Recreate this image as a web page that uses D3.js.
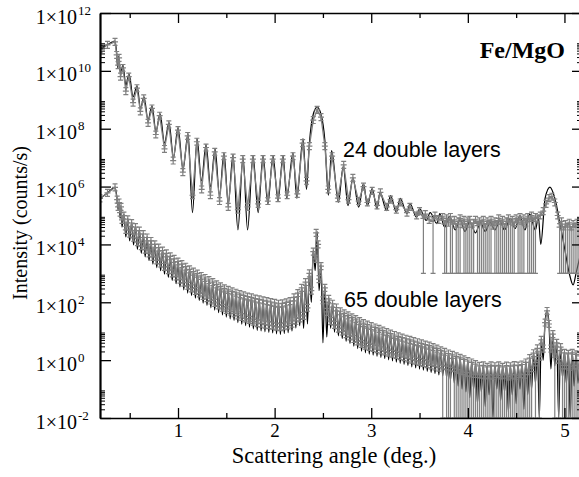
<!DOCTYPE html>
<html><head><meta charset="utf-8">
<script src="https://cdn.jsdelivr.net/npm/d3@7"></script>
<style>body{margin:0;background:#fff}svg{display:block}</style>
</head><body><svg id="c" width="579" height="477"></svg>
<script>
// ---- tick values ----
const xTicksMajor = [1, 2, 3, 4, 5];
const xTicksMinor = [0.5, 1.5, 2.5, 3.5, 4.5];
const yTickExps = [-2, 0, 2, 4, 6, 8, 10, 12];
const yMinorMantissas = [2, 3, 4, 5, 6, 7, 8, 9];
const yMinorExps = [-2, 0, 2, 4, 6, 8, 10];
const xTitle = "Scattering angle (deg.)";
const yTitle = "Intensity (counts/s)";
const sampleTitle = "Fe/MgO";
const seriesLabels = ["24 double layers", "65 double layers"];

// ---- data: [angle (deg), log10 intensity, optional log10 lower error bound] ----
const model24 = [[0.193,10.76],[0.27,10.90],[0.348,11.03],[0.365,10.6],[0.375,10.1],[0.385,10.5],[0.405,9.9],[0.43,10.2],[0.46,9.5],[0.493,9.90],[0.535,9.1],[0.576,9.48],[0.612,8.7],[0.648,9.10],[0.69,8.3],[0.731,8.79],[0.772,7.9],[0.814,8.52],[0.86,7.5],[0.907,8.21],[0.953,7.0],[1.0,8.04],[1.052,6.6],[1.104,7.83],[1.15,5.1],[1.197,7.66],[1.243,6.2],[1.29,7.45],[1.337,6.0],[1.383,7.31],[1.43,5.7],[1.476,7.17],[1.52,5.4],[1.569,7.10],[1.62,4.5],[1.673,7.04],[1.72,4.5],[1.776,7.07],[1.83,5.1],[1.88,7.07],[1.93,5.4],[1.983,7.07],[2.035,5.5],[2.087,7.07],[2.125,5.6],[2.19,7.17],[2.23,5.6],[2.294,7.66],[2.33,5.9],[2.36,7.5],[2.40,8.5],[2.44,8.75],[2.48,8.5],[2.52,7.6],[2.556,5.7],[2.59,7.24],[2.66,5.46],[2.71,6.69],[2.76,5.34],[2.81,6.31],[2.87,5.29],[2.92,6.10],[2.96,5.34],[3.01,5.93],[3.06,5.23],[3.09,5.79],[3.16,5.17],[3.20,5.69],[3.26,5.11],[3.30,5.59],[3.37,5.06],[3.40,5.41],[3.47,4.94],[3.50,5.24],[3.57,4.83],[3.61,5.10],[3.68,4.72],[3.71,5.07],[3.76,4.6],[3.81,4.97],[3.87,4.5],[3.92,4.86],[3.97,4.45],[4.02,4.79],[4.08,4.4],[4.13,4.76],[4.18,4.45],[4.23,4.76],[4.28,4.5],[4.33,4.83],[4.38,4.5],[4.44,4.90],[4.49,4.55],[4.54,5.0],[4.59,4.5],[4.64,5.05],[4.70,4.5],[4.73,4.95],[4.755,4.0],[4.80,5.6],[4.85,5.98],[4.90,5.6],[4.95,4.8],[5.0,3.9],[5.05,3.0],[5.09,2.6],[5.12,3.0],[5.161,3.6]];

const data24 = [[0.193,10.76],[0.27,10.9],[0.348,11.0],[0.365,10.55],[0.38,10.2],[0.39,10.45],[0.405,9.8],[0.43,10.1],[0.46,9.3],[0.49,9.8],[0.535,8.9],[0.575,9.4],[0.61,8.6],[0.645,9.05],[0.69,8.2],[0.73,8.7],[0.77,7.8],[0.81,8.45],[0.86,7.3],[0.905,8.15],[0.95,6.9],[1.0,7.95],[1.05,6.5],[1.10,7.75],[1.15,5.7],[1.195,7.55],[1.245,5.9],[1.29,7.35],[1.335,5.7],[1.38,7.2],[1.43,5.5],[1.475,7.05],[1.52,5.3],[1.57,7.0],[1.62,5.2],[1.67,6.95],[1.72,5.3],[1.775,6.95],[1.83,5.4],[1.88,6.95],[1.93,5.5],[1.98,6.95],[2.035,5.6],[2.085,6.95],[2.13,5.7],[2.19,7.05],[2.235,5.75],[2.29,7.5],[2.33,6.2],[2.36,7.4],[2.40,8.3],[2.44,8.65],[2.48,8.4],[2.52,7.4],[2.555,5.9],[2.595,7.05],[2.655,5.6],[2.715,6.75],[2.765,5.55],[2.81,6.3],[2.87,5.5],[2.92,6.0],[2.96,5.45],[3.01,5.85],[3.06,5.35],[3.095,5.8],[3.16,5.3],[3.20,5.55],[3.26,5.2],[3.30,5.45],[3.37,5.1],[3.40,5.3],[3.47,5.0],[3.50,5.15],
[3.54,4.9,3.0],[3.56,5.05],[3.60,4.85],[3.64,4.8,3.0],[3.66,5.0],[3.70,4.85],[3.74,4.95],[3.76,4.7,3.0],[3.78,4.9,3.0],[3.80,4.75],[3.82,4.95,3.0],[3.84,4.7,3.0],[3.86,4.85],[3.88,4.6,3.0],[3.90,4.8,3.0],[3.92,4.9,3.0],[3.94,4.7],[3.96,4.85,3.0],[3.98,4.6,3.0],[4.00,4.8,3.0],[4.02,4.85,3.0],[4.04,4.6,3.0],[4.06,4.75,3.0],[4.08,4.85],[4.10,4.65,3.0],[4.12,4.8,3.0],[4.14,4.7,3.0],[4.16,4.85,3.0],[4.18,4.6,3.0],[4.20,4.8,3.0],[4.22,4.7,3.0],[4.24,4.85,3.0],[4.26,4.65],[4.28,4.8,3.0],[4.30,4.7,3.0],[4.32,4.9,3.0],[4.34,4.7,3.0],[4.36,4.85,3.0],[4.38,4.6,3.0],[4.40,4.8,3.0],[4.42,4.9,3.0],[4.44,4.7,3.0],[4.46,4.85,3.0],[4.48,4.65,3.0],[4.50,4.9],[4.52,4.75,3.0],[4.54,4.95,3.0],[4.56,4.7,3.0],[4.58,4.9,3.0],[4.60,4.75],[4.62,4.95,3.0],[4.64,4.8,3.0],[4.66,5.0,3.0],[4.68,4.8,3.0],[4.70,4.95,3.0],[4.72,4.9],[4.75,5.0],[4.78,5.15],[4.81,5.4],[4.84,5.6],[4.87,5.65],[4.90,5.45],[4.93,5.0],[4.95,4.6,3.0],[4.97,4.8,3.0],[4.99,4.5,3.0],[5.01,4.7,3.0],[5.03,4.6,3.0],[5.05,4.75,3.0],[5.07,4.5,3.0],[5.09,4.7,3.0],[5.11,4.6,3.0],[5.13,4.75,3.0],[5.15,4.6,3.0]];

const model65 = [[0.193,5.59],[0.27,5.78],[0.348,5.97],[0.37,5.55],[0.38,5.2],[0.39,5.4],[0.40,4.9],[0.41,5.25],[0.42,4.6],
[0.44,5.04],[0.46,4.26],[0.48,4.90],[0.50,4.12],[0.52,4.77],[0.54,3.98],[0.56,4.64],[0.58,3.83],[0.60,4.51],[0.62,3.69],[0.64,4.39],[0.66,3.57],[0.68,4.27],[0.70,3.44],[0.72,4.15],[0.74,3.32],[0.76,4.03],[0.78,3.20],[0.80,3.92],[0.82,3.09],[0.84,3.82],[0.86,2.97],[0.88,3.72],[0.90,2.86],[0.92,3.62],[0.94,2.75],[0.96,3.53],[0.98,2.64],[1.00,3.44],[1.02,2.53],[1.04,3.35],[1.06,2.43],[1.08,3.26],[1.10,2.32],[1.12,3.17],[1.14,2.23],[1.16,3.09],[1.18,2.14],[1.20,3.02],[1.22,2.06],[1.24,2.94],[1.26,1.97],[1.28,2.87],[1.30,1.89],[1.32,2.80],[1.34,1.81],[1.36,2.73],[1.38,1.73],[1.40,2.65],[1.42,1.64],[1.44,2.58],[1.46,1.56],[1.48,2.51],[1.50,1.49],[1.52,2.46],[1.54,1.43],[1.56,2.41],[1.58,1.37],[1.60,2.36],[1.62,1.30],[1.64,2.31],[1.66,1.24],[1.68,2.27],[1.70,1.19],[1.72,2.23],[1.74,1.14],[1.76,2.20],[1.78,1.08],[1.80,2.16],[1.82,1.03],[1.84,2.13],[1.86,1.01],[1.88,2.10],[1.90,0.98],[1.92,2.07],[1.94,0.96],[1.96,2.04],[1.98,0.94],[2.00,2.01],[2.02,0.91],[2.04,1.98],[2.06,0.89],[2.08,1.99],[2.10,0.92],[2.12,2.03],[2.14,0.95],[2.16,2.07],[2.18,1.01],[2.20,2.20],[2.22,1.11],[2.24,2.35],[2.26,1.19],[2.28,2.53],[2.30,1.10],[2.32,2.73],[2.34,1.25],[2.36,3.03],[2.38,2.0],[2.40,3.80],[2.42,3.1],[2.44,4.45],[2.46,2.4],[2.48,3.30],[2.50,0.6],[2.52,2.56],[2.54,0.8],[2.56,2.17],[2.58,1.10],[2.60,1.98],[2.62,0.97],[2.64,1.85],[2.66,0.84],[2.68,1.72],[2.70,0.74],[2.72,1.65],[2.74,0.65],[2.76,1.58],[2.78,0.57],[2.80,1.51],[2.82,0.48],[2.84,1.45],[2.86,0.40],[2.88,1.38],[2.90,0.31],[2.92,1.31],[2.94,0.25],[2.96,1.26],[2.98,0.21],[3.00,1.21],[3.02,0.17],[3.04,1.16],[3.06,0.13],[3.08,1.11],[3.10,0.09],[3.12,1.05],[3.14,0.05],[3.16,1.00],[3.18,0.01],[3.20,0.95],[3.22,-0.03],[3.24,0.90],[3.26,-0.07],[3.28,0.85],[3.30,-0.11],[3.32,0.81],[3.34,-0.15],[3.36,0.77],[3.38,-0.19],[3.40,0.73],[3.42,-0.23],[3.44,0.69],[3.46,-0.27],[3.48,0.65],[3.50,-0.31],[3.52,0.61],[3.54,-0.35],[3.56,0.57],[3.58,-0.39],[3.60,0.53],[3.62,-0.43],[3.64,0.48],[3.66,-0.47],[3.68,0.43],[3.70,-0.51],[3.72,0.37],[3.74,-0.55],[3.76,0.32],[3.78,-0.6],[3.80,0.26],[3.82,-0.7],[3.84,0.21],[3.86,-0.8],[3.88,0.16],[3.90,-0.9],[3.92,0.11],[3.94,-1.0],[3.96,0.06],[3.98,-1.1],[4.00,0.00],[4.02,-1.3],[4.04,-0.05],[4.06,-1.0],[4.08,-0.11],[4.10,-1.5],[4.12,-0.17],[4.14,-1.1],[4.16,-0.15],[4.18,-1.6],[4.20,-0.20],[4.22,-1.2],[4.24,-0.15],[4.26,-2.0],[4.28,-0.18],[4.30,-1.0],[4.32,-0.15],[4.34,-1.4],[4.36,-0.20],[4.38,-1.1],[4.40,-0.16],[4.42,-1.8],[4.44,-0.18],[4.46,-1.2],[4.48,-0.14],[4.50,-1.5],[4.52,-0.16],[4.54,-1.0],[4.56,-0.12],[4.58,-1.7],[4.60,-0.05],[4.62,-1.2],[4.64,0.10],[4.66,-1.0],[4.68,0.27],[4.70,-0.8],[4.72,0.44],[4.74,-2.0],[4.76,0.75],[4.78,0.0],[4.80,1.35],[4.82,1.72],[4.84,1.25],[4.86,-0.3],[4.88,0.95],[4.90,-0.2],[4.92,0.69],[4.94,-2.0],[4.96,0.50],[4.98,-0.6],[5.00,0.30],[5.02,-0.8],[5.04,0.28],[5.06,-2.0],[5.08,0.30],[5.10,-0.9],[5.12,0.25],[5.14,-0.8],[5.161,0.2]];

const data65 = [[0.193,5.59],[0.27,5.78],[0.348,5.97],[0.37,5.55],[0.38,5.3],[0.39,5.45],[0.40,5.1],[0.41,5.3],[0.42,4.85],
[0.44,5.0],[0.46,4.5],[0.48,4.87],[0.50,4.37],[0.52,4.74],[0.54,4.23],[0.56,4.6],[0.58,4.08],[0.60,4.48],[0.62,3.94],[0.64,4.36],[0.66,3.82],[0.68,4.24],[0.70,3.69],[0.72,4.12],[0.74,3.57],[0.76,4.0],[0.78,3.45],[0.80,3.89],[0.82,3.34],[0.84,3.79],[0.86,3.22],[0.88,3.69],[0.90,3.11],[0.92,3.59],[0.94,3.0],[0.96,3.5],[0.98,2.89],[1.00,3.41],[1.02,2.78],[1.04,3.32],[1.06,2.68],[1.08,3.23],[1.10,2.57],[1.12,3.14],[1.14,2.48],[1.16,3.06],[1.18,2.39],[1.20,2.99],[1.22,2.31],[1.24,2.91],[1.26,2.22],[1.28,2.84],[1.30,2.14],[1.32,2.77],[1.34,2.06],[1.36,2.7],[1.38,1.98],[1.40,2.62],[1.42,1.89],[1.44,2.55],[1.46,1.81],[1.48,2.48],[1.50,1.74],[1.52,2.43],[1.54,1.68],[1.56,2.38],[1.58,1.62],[1.60,2.33],[1.62,1.55],[1.64,2.28],[1.66,1.49],[1.68,2.24],[1.70,1.44],[1.72,2.2],[1.74,1.39],[1.76,2.17],[1.78,1.33],[1.80,2.13],[1.82,1.28],[1.84,2.1],[1.86,1.26],[1.88,2.07],[1.90,1.23],[1.92,2.04],[1.94,1.21],[1.96,2.01],[1.98,1.19],[2.00,1.98],[2.02,1.16],[2.04,1.95],[2.06,1.14],[2.08,1.96],[2.10,1.17],[2.12,2.0],[2.14,1.2],[2.16,2.04],[2.18,1.26],[2.20,2.17],[2.22,1.36],[2.24,2.32],[2.26,1.44],[2.28,2.5],[2.30,1.53],[2.32,2.7],[2.34,1.81],[2.36,3.0],[2.38,2.4],[2.40,3.75],[2.42,3.5],[2.43,4.4],[2.45,4.0],[2.46,2.8],[2.48,3.25],[2.50,2.07],[2.52,2.5],[2.54,1.67],[2.56,2.12],[2.58,1.35],[2.60,1.95],[2.62,1.22],[2.64,1.82],[2.66,1.09],[2.68,1.69],[2.70,0.99],[2.72,1.62],[2.74,0.9],[2.76,1.55],[2.78,0.82],[2.80,1.48],[2.82,0.73],[2.84,1.42],[2.86,0.65],[2.88,1.35],[2.90,0.56],[2.92,1.28],[2.94,0.5],[2.96,1.23],[2.98,0.46],[3.00,1.18],[3.02,0.42],[3.04,1.13],[3.06,0.38],[3.08,1.08],[3.10,0.34],[3.12,1.02],[3.14,0.3],[3.16,0.97],[3.18,0.26],[3.20,0.92],[3.22,0.22],[3.24,0.87],[3.26,0.18],[3.28,0.82],[3.30,0.14],[3.32,0.78],[3.34,0.1],[3.36,0.74],[3.38,0.06],[3.40,0.7],[3.42,0.02],[3.44,0.66],[3.46,-0.02],[3.48,0.62],[3.50,-0.06],[3.52,0.58],[3.54,-0.1],[3.56,0.54],[3.58,-0.14],[3.60,0.5],[3.62,-0.18],[3.64,0.45],[3.66,-0.22],[3.68,0.4],[3.70,-0.26],[3.72,0.34],[3.74,-0.3,-2],[3.76,0.29],[3.78,-0.33,-2],[3.80,0.23,-2],[3.82,-0.37,-2],[3.84,0.18],[3.86,-0.4,-2],[3.88,0.13,-2],[3.90,-0.45,-2],[3.92,0.08,-2],[3.94,-0.5,-2],[3.96,0.03,-2],[3.98,-0.55,-2],[4.00,-0.03,-2],[4.02,-0.55,-2],[4.04,-0.08,-2],[4.06,-0.6,-2],[4.08,-0.14,-2],[4.10,-0.6,-2],[4.12,-0.2,-2],[4.14,-0.62,-2],[4.16,-0.18,-2],[4.18,-0.65,-2],[4.20,-0.23,-2],[4.22,-0.62,-2],[4.24,-0.18,-2],[4.26,-0.66,-2],[4.28,-0.21,-2],[4.30,-0.6,-2],[4.32,-0.18,-2],[4.34,-0.65,-2],[4.36,-0.23,-2],[4.38,-0.62,-2],[4.40,-0.19,-2],[4.42,-0.68,-2],[4.44,-0.21,-2],[4.46,-0.62,-2],[4.48,-0.17,-2],[4.50,-0.66,-2],[4.52,-0.19,-2],[4.54,-0.6,-2],[4.56,-0.15,-2],[4.58,-0.62,-2],[4.60,-0.08,-2],[4.62,-0.5,-2],[4.64,0.07,-2],[4.66,-0.4,-2],[4.68,0.24],[4.70,-0.2,-2],[4.72,0.41],[4.74,0.0,-2],[4.76,0.7],[4.78,0.4],[4.80,1.3],[4.82,1.7],[4.84,1.25],[4.86,0.4],[4.88,0.9],[4.90,0.1,-2],[4.92,0.6],[4.94,-0.1,-2],[4.96,0.45],[4.98,-0.3,-2],[5.00,0.25,-2],[5.02,-0.3,-2],[5.04,0.22,-2],[5.06,-0.35,-2],[5.08,0.25,-2],[5.10,-0.3,-2],[5.12,0.2,-2],[5.14,-0.3,-2],[5.16,0.15,-2]];

// ---- layout ----
const L = 100, R = 580, T = 13, B = 418;
const GRAY = "#808080";
const ERR = 0.12;

const svg = d3.select("#c");
const x = d3.scaleLinear().domain([0.1925, 5.161]).range([L, R]);
const y = d3.scaleLog().domain([1e-2, 1e12]).range([B, T]);
const Y = v => y(Math.pow(10, v));

svg.append("defs").append("clipPath").attr("id", "clip")
  .append("rect").attr("x", L).attr("y", T).attr("width", R - L).attr("height", B - T);

const plot = svg.append("g").attr("clip-path", "url(#clip)");

const modelLine = d3.line().x(d => x(d[0])).y(d => Y(d[1])).curve(d3.curveMonotoneX);
const dataLine = d3.line().x(d => x(d[0])).y(d => Y(d[1]));

[model24, model65].forEach(m => {
  plot.append("path").datum(m).attr("d", modelLine)
    .attr("fill", "none").attr("stroke", "#000").attr("stroke-width", 1.2);
});

[data24, data65].forEach(dd => {
  const g = plot.append("g").attr("stroke", GRAY).attr("fill", "none").attr("stroke-width", 1.2);
  g.append("path").datum(dd).attr("d", dataLine).attr("stroke-width", 1.3);
  g.selectAll(null).data(dd).enter().append("path")
    .attr("d", d => {
      const cx = x(d[0]), cy = Y(d[1]);
      const hi = Y(d[1] + ERR);
      const lo = Y(d.length > 2 ? d[2] : d[1] - ERR);
      return `M${cx},${hi}V${lo}M${cx-3},${cy}H${cx+3}M${cx-2.5},${hi}H${cx+2.5}M${cx-2.5},${lo}H${cx+2.5}`;
    });
});

// ---- axes ----
const yMajorVals = yTickExps.map(e => Math.pow(10, e));
const yMinorVals = [];
yMinorExps.forEach(e => yMinorMantissas.forEach(m => yMinorVals.push(m * Math.pow(10, e))));

function styleAxis(g, w) {
  g.selectAll(".domain").attr("stroke", "#000").attr("stroke-width", w);
  g.selectAll(".tick line").attr("stroke", "#000").attr("stroke-width", 1.3);
}

// bottom
const gb = svg.append("g").attr("transform", `translate(0,${B})`)
  .call(d3.axisBottom(x).tickValues(xTicksMajor).tickSizeInner(-10).tickSizeOuter(0).tickPadding(6).tickFormat(d3.format("d")));
styleAxis(gb, 1.6);
gb.selectAll(".tick text").attr("font-family", "Liberation Serif, Times New Roman, serif").attr("font-size", 19).attr("fill", "#000");
svg.append("g").attr("transform", `translate(0,${B})`)
  .call(d3.axisBottom(x).tickValues(xTicksMinor).tickSizeInner(-5).tickSizeOuter(0).tickFormat(""))
  .call(g => { g.select(".domain").remove(); g.selectAll(".tick line").attr("stroke", "#000").attr("stroke-width", 1.3); });

// top
const gt = svg.append("g").attr("transform", `translate(0,${T})`)
  .call(d3.axisTop(x).tickValues(xTicksMajor).tickSizeInner(-10).tickSizeOuter(0).tickFormat(""));
styleAxis(gt, 1.6);
svg.append("g").attr("transform", `translate(0,${T})`)
  .call(d3.axisTop(x).tickValues(xTicksMinor).tickSizeInner(-5).tickSizeOuter(0).tickFormat(""))
  .call(g => { g.select(".domain").remove(); g.selectAll(".tick line").attr("stroke", "#000").attr("stroke-width", 1.3); });

// left
const gl = svg.append("g").attr("transform", `translate(${L},0)`)
  .call(d3.axisLeft(y).tickValues(yMajorVals).tickSizeInner(-11).tickSizeOuter(0).tickFormat(""));
styleAxis(gl, 2.2);
gl.selectAll(".tick").each(function(d, i) {
  const t = d3.select(this);
  t.select("text").remove();
  t.append("text").attr("x", -23).attr("y", 10).attr("text-anchor", "end")
    .attr("font-family", "Liberation Serif, Times New Roman, serif").attr("font-size", 20).attr("fill", "#000")
    .text("1×10");
  t.append("text").attr("x", -22).attr("y", 1).attr("text-anchor", "start")
    .attr("font-family", "Liberation Serif, Times New Roman, serif").attr("font-size", 13).attr("fill", "#000")
    .text(String(yTickExps[i]));
});
svg.append("g").attr("transform", `translate(${L},0)`)
  .call(d3.axisLeft(y).tickValues(yMinorVals).tickSizeInner(-5).tickSizeOuter(0).tickFormat(""))
  .call(g => { g.select(".domain").remove(); g.selectAll(".tick line").attr("stroke", "#000").attr("stroke-width", 1); });

// right
const gr = svg.append("g").attr("transform", `translate(${R},0)`)
  .call(d3.axisRight(y).tickValues(yMajorVals).tickSizeInner(-8).tickSizeOuter(0).tickFormat(""));
styleAxis(gr, 1.6);
svg.append("g").attr("transform", `translate(${R},0)`)
  .call(d3.axisRight(y).tickValues(yMinorVals).tickSizeInner(-3).tickSizeOuter(0).tickFormat(""))
  .call(g => { g.select(".domain").remove(); g.selectAll(".tick line").attr("stroke", "#000").attr("stroke-width", 1); });

// ---- titles & labels ----
svg.append("text").attr("x", 334).attr("y", 463).attr("text-anchor", "middle")
  .attr("font-family", "Liberation Serif, Times New Roman, serif").attr("font-size", 22.5).attr("fill", "#000")
  .text(xTitle);
svg.append("text").attr("transform", "translate(27,223) rotate(-90)").attr("text-anchor", "middle")
  .attr("font-family", "Liberation Serif, Times New Roman, serif").attr("font-size", 20).attr("fill", "#000")
  .text(yTitle);
svg.append("text").attr("x", 565).attr("y", 58).attr("text-anchor", "end")
  .attr("font-family", "Liberation Serif, Times New Roman, serif").attr("font-weight", "bold").attr("font-size", 24).attr("fill", "#000")
  .text(sampleTitle);
svg.append("text").attr("x", 343).attr("y", 157)
  .attr("font-family", "Liberation Sans, Arial, sans-serif").attr("font-size", 21.5).attr("fill", "#000")
  .text(seriesLabels[0]);
svg.append("text").attr("x", 344).attr("y", 306.5)
  .attr("font-family", "Liberation Sans, Arial, sans-serif").attr("font-size", 21.5).attr("fill", "#000")
  .text(seriesLabels[1]);
</script>
</body></html>
